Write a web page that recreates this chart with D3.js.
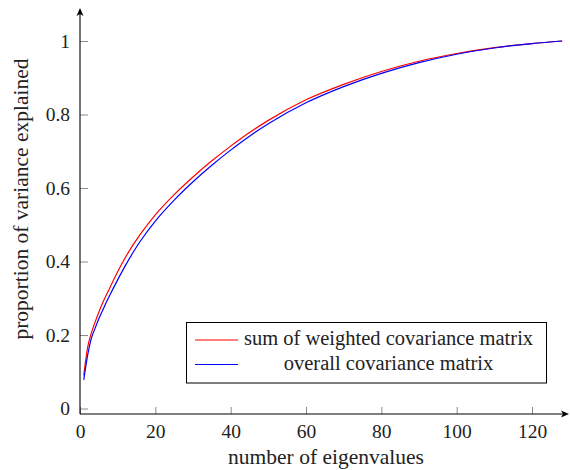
<!DOCTYPE html>
<html>
<head>
<meta charset="utf-8">
<script src="https://cdn.jsdelivr.net/npm/d3@7"></script>
<style>
  body { margin: 0; background: #fff; }
  svg { display: block; }
  svg text { font-family: "Liberation Serif", "Times New Roman", "DejaVu Serif"; }
</style>
</head>
<body>
<div id="chart"></div>
<script>
// number of eigenvalues kept
const eigenCount = [1, 2, 3, 4, 5, 6, 8, 10, 12, 14, 16, 20, 25, 30, 35, 40, 45, 50, 60, 70, 80, 90, 100, 110, 120, 128];
// sum of weighted covariance matrix
const weightedShare = [0.09, 0.165, 0.205, 0.235, 0.262, 0.287, 0.33, 0.372, 0.41, 0.444, 0.474, 0.527, 0.582, 0.63, 0.674, 0.714, 0.751, 0.784, 0.84, 0.882, 0.917, 0.945, 0.966, 0.982, 0.993, 1.0];
// overall covariance matrix
const overallShare = [0.078, 0.143, 0.19, 0.218, 0.244, 0.267, 0.31, 0.35, 0.388, 0.423, 0.455, 0.51, 0.567, 0.617, 0.662, 0.703, 0.741, 0.775, 0.832, 0.876, 0.912, 0.941, 0.964, 0.981, 0.993, 1.0];

const xTicks = [0, 20, 40, 60, 80, 100, 120];
const yTicks = [0, 0.2, 0.4, 0.6, 0.8, 1];
const seriesNames = ["sum of weighted covariance matrix", "overall covariance matrix"];
const seriesColors = ["#ff0000", "#0000ff"];

const width = 570, height = 470;
const axisY = 414, axisX = 80;
const tickFont = 19.5, labelFont = 21.5, legendFont = 20.5;

const svg = d3.select("#chart").append("svg")
    .attr("width", width)
    .attr("height", height);

const x = d3.scaleLinear().domain([0, 120]).range([80, 532]);
const y = d3.scaleLinear().domain([0, 1]).range([408.5, 41]);

// ticks
const gx = svg.append("g")
    .attr("transform", `translate(0,${axisY})`)
    .call(d3.axisBottom(x).tickValues(xTicks).tickSize(-7).tickPadding(0).tickFormat(d3.format("d")))
    .call(g => g.select(".domain").remove())
    .attr("font-family", null);
gx.selectAll(".tick line").attr("stroke", "#8c8c8c");
gx.selectAll(".tick text")
    .attr("y", 0).attr("dy", null)
    .attr("transform", "translate(0,24)")
    .attr("font-size", tickFont).attr("fill", "#222");

const gy = svg.append("g")
    .attr("transform", `translate(${axisX},0)`)
    .call(d3.axisLeft(y).tickValues(yTicks).tickSize(-8).tickPadding(10).tickFormat(d => d === 0 || d === 1 ? d : d.toFixed(1)))
    .call(g => g.select(".domain").remove())
    .attr("font-family", null);
gy.selectAll(".tick line").attr("stroke", "#8c8c8c");
gy.selectAll(".tick text")
    .attr("dy", "0.32em")
    .attr("font-size", tickFont).attr("fill", "#222");

// axis lines with arrow heads
svg.append("line")
    .attr("x1", axisX).attr("x2", 566)
    .attr("y1", axisY).attr("y2", axisY)
    .attr("stroke", "#000").attr("stroke-width", 1.1);
svg.append("path")
    .attr("d", `M569,${axisY} L561,${axisY - 3.5} L563,${axisY} L561,${axisY + 3.5} Z`)
    .attr("fill", "#000");
svg.append("line")
    .attr("x1", axisX).attr("x2", axisX)
    .attr("y1", axisY).attr("y2", 11)
    .attr("stroke", "#000").attr("stroke-width", 1.1);
svg.append("path")
    .attr("d", `M${axisX},8 L${axisX - 3.5},16 L${axisX},14 L${axisX + 3.5},16 Z`)
    .attr("fill", "#000");

// curves
const line = d3.line()
    .x(d => x(d[0]))
    .y(d => y(d[1]))
    .curve(d3.curveMonotoneX);

[weightedShare, overallShare].forEach((vals, i) => {
    svg.append("path")
        .datum(eigenCount.map((c, j) => [c, vals[j]]))
        .attr("fill", "none")
        .attr("stroke", seriesColors[i])
        .attr("stroke-width", 1.2)
        .attr("d", line);
});

// axis labels
svg.append("text")
    .attr("x", 326).attr("y", 464)
    .attr("text-anchor", "middle")
    .attr("font-size", labelFont).attr("fill", "#222")
    .text("number of eigenvalues");
svg.append("text")
    .attr("transform", "translate(28,199) rotate(-90)")
    .attr("text-anchor", "middle")
    .attr("font-size", labelFont).attr("fill", "#222")
    .text("proportion of variance explained");

// legend
const legend = svg.append("g");
legend.append("rect")
    .attr("x", 186.5).attr("y", 322.5)
    .attr("width", 360).attr("height", 60.5)
    .attr("fill", "#fff").attr("stroke", "#000").attr("stroke-width", 1);
seriesNames.forEach((name, i) => {
    const ly = 340 + i * 24.5;
    legend.append("line")
        .attr("x1", 195).attr("x2", 238)
        .attr("y1", ly).attr("y2", ly)
        .attr("stroke", seriesColors[i]).attr("stroke-width", 1.2);
    legend.append("text")
        .attr("x", 388.5).attr("y", ly + 5)
        .attr("text-anchor", "middle")
        .attr("font-size", legendFont).attr("fill", "#222")
        .text(name);
});
</script>
</body>
</html>
